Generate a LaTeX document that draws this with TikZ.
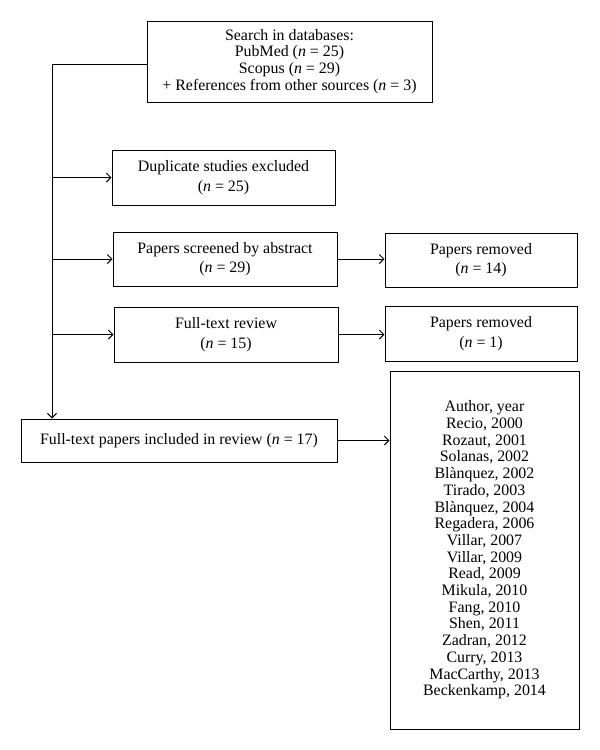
\documentclass[tikz,border=0pt]{standalone}
\usepackage{fontspec}
\setmainfont{Liberation Serif}
\usetikzlibrary{calc,arrows.meta}

\begin{document}
\begin{tikzpicture}[x=1pt,y=-1pt,
  box/.style={draw, line width=1pt, align=center, inner sep=0pt,
    font=\fontsize{15.9}{16.7}\selectfont},
  pair/.style={box, font=\fontsize{15.9}{19.5}\selectfont},
  link/.style={-{Straight Barb[length=4.5pt,width=9pt]}, line width=1pt}]
\useasboundingbox (0,0) rectangle (600,750);
% search
\node [box, minimum width=285pt, minimum height=81pt] (search) at (289.5,61.5)
  {Search in databases:\\ PubMed (\textit{n} = 25)\\ Scopus (\textit{n} = 29)\\
   + References from other sources (\textit{n} = 3)};
% screening steps
\node [pair, minimum width=223pt, minimum height=55pt] (dup) at (223.5,177.5)
  {Duplicate studies excluded\\ (\textit{n} = 25)};
\node [pair, minimum width=224pt, minimum height=54pt] (screen) at (225,259)
  {Papers screened by abstract\\ (\textit{n} = 29)};
\node [pair, minimum width=192pt, minimum height=54pt] (rem1) at (481,260)
  {Papers removed\\ (\textit{n} = 14)};
\node [pair, minimum width=224pt, minimum height=55pt] (review) at (226,334.5)
  {Full-text review\\ (\textit{n} = 15)};
\node [pair, minimum width=192pt, minimum height=55pt] (rem2) at (481,333.5)
  {Papers removed\\ (\textit{n} = 1)};
% result
\node [box, minimum width=316pt, minimum height=43pt] (incl) at (179,440.5)
  {Full-text papers included in review (\textit{n} = 17)};
\node [box, minimum width=189pt, minimum height=358pt] (authors) at (484.5,550)
  {Author, year\\ Recio, 2000\\ Rozaut, 2001\\ Solanas, 2002\\ Blànquez, 2002\\
   Tirado, 2003\\ Blànquez, 2004\\ Regadera, 2006\\ Villar, 2007\\ Villar, 2009\\
   Read, 2009\\ Mikula, 2010\\ Fang, 2010\\ Shen, 2011\\ Zadran, 2012\\
   Curry, 2013\\ MacCarthy, 2013\\ Beckenkamp, 2014};
% arrows
\coordinate (trunk) at (52,64);
\draw [link] (search.west |- trunk) -- (trunk) -- (trunk |- incl.north);
\draw [link] (trunk |- dup.west) -- (dup.west);
\draw [link] (trunk |- screen.west) -- (screen.west);
\draw [link] (trunk |- review.west) -- (review.west);
\draw [link] (screen.east) -- (rem1.west |- screen.east);
\draw [link] (review.east) -- (rem2.west |- review.east);
\draw [link] (incl.east) -- (authors.west |- incl.east);
\end{tikzpicture}
\end{document}
